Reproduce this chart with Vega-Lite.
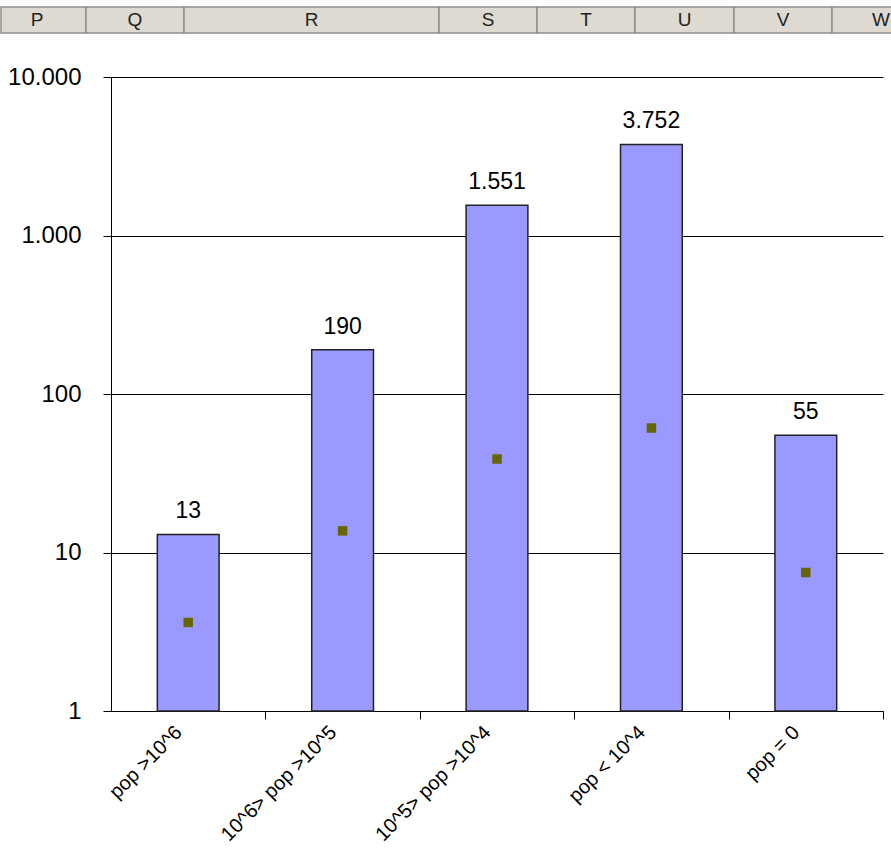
{
  "$schema": "https://vega.github.io/schema/vega-lite/v6.json",
  "padding": {"left": 0, "top": 6, "right": 0, "bottom": 0},
  "background": "white",
  "spacing": 44,
  "bounds": "flush",
  "config": {"font": "Liberation Sans", "view": {"stroke": null}},
  "datasets": {
    "columns": [
      {"col": "P", "start": -13, "end": 85},
      {"col": "Q", "start": 85, "end": 183},
      {"col": "R", "start": 183, "end": 438},
      {"col": "S", "start": 438, "end": 536},
      {"col": "T", "start": 536, "end": 634},
      {"col": "U", "start": 634, "end": 733},
      {"col": "V", "start": 733, "end": 831},
      {"col": "W", "start": 831, "end": 929}
    ],
    "groups": [
      {"group": "pop >10^6", "count": 13, "mean": 3.62},
      {"group": "10^6> pop >10^5", "count": 190, "mean": 13.7},
      {"group": "10^5> pop >10^4", "count": 1551, "mean": 38.9},
      {"group": "pop < 10^4", "count": 3752, "mean": 61},
      {"group": "pop = 0", "count": 55, "mean": 7.48}
    ]
  },
  "vconcat": [
    {
      "width": 772,
      "height": 26,
      "data": {"name": "columns"},
      "transform": [
        {"calculate": "max(datum.start, 0)", "as": "x0"},
        {"calculate": "min(datum.end, 891)", "as": "x1"},
        {"calculate": "(datum.start + datum.end) / 2", "as": "mid"}
      ],
      "layer": [
        {
          "mark": {"type": "rect", "fill": "#dedad2", "stroke": "#8e8e8e", "strokeWidth": 1.5},
          "encoding": {
            "x": {"field": "x0", "type": "quantitative", "scale": {"domain": [110, 882], "zero": false, "nice": false}, "axis": null},
            "x2": {"field": "x1"}
          }
        },
        {
          "mark": {"type": "text", "fontSize": 19, "color": "#222", "baseline": "middle"},
          "encoding": {
            "x": {"field": "mid", "type": "quantitative", "axis": null},
            "text": {"field": "col"}
          }
        }
      ]
    },
    {
      "width": 772,
      "height": 634,
      "data": {"name": "groups"},
      "transform": [
        {"calculate": "replace(format(datum.count, ',d'), ',', '.')", "as": "label"}
      ],
      "encoding": {
        "x": {
          "field": "group",
          "type": "nominal",
          "sort": null,
          "scale": {"paddingInner": 0.6, "paddingOuter": 0.3},
          "axis": {
            "title": null,
            "labelAngle": -45,
            "labelAlign": "right",
            "labelBaseline": "middle",
            "labelFontSize": 20,
            "labelPadding": 10,
            "tickSize": 8,
            "tickOffset": 77.2,
            "labelOffset": -87,
            "domainColor": "#000",
            "tickColor": "#000",
            "labelColor": "#000"
          }
        }
      },
      "layer": [
        {
          "mark": {"type": "bar", "fill": "#9999ff", "stroke": "#222", "strokeWidth": 1.5},
          "encoding": {
            "y": {
              "field": "count",
              "type": "quantitative",
              "title": null,
              "scale": {"type": "log", "domain": [1, 10000], "nice": false},
              "axis": {
                "values": [1, 10, 100, 1000, 10000],
                "labelExpr": "replace(format(datum.value, ',d'), ',', '.')",
                "grid": true,
                "gridColor": "#000",
                "gridWidth": 1,
                "domainColor": "#000",
                "tickColor": "#000",
                "tickSize": 8,
                "labelPadding": 22,
                "labelFontSize": 24,
                "labelColor": "#000"
              }
            },
            "y2": {"datum": 1}
          }
        },
        {
          "mark": {"type": "text", "fontSize": 23, "dy": -16, "baseline": "alphabetic", "color": "#000"},
          "encoding": {
            "y": {"field": "count", "type": "quantitative", "title": null},
            "text": {"field": "label"}
          }
        },
        {
          "mark": {"type": "point", "shape": "square", "filled": true, "size": 90, "color": "#666600", "opacity": 1},
          "encoding": {
            "y": {"field": "mean", "type": "quantitative", "title": null}
          }
        }
      ]
    }
  ]
}
